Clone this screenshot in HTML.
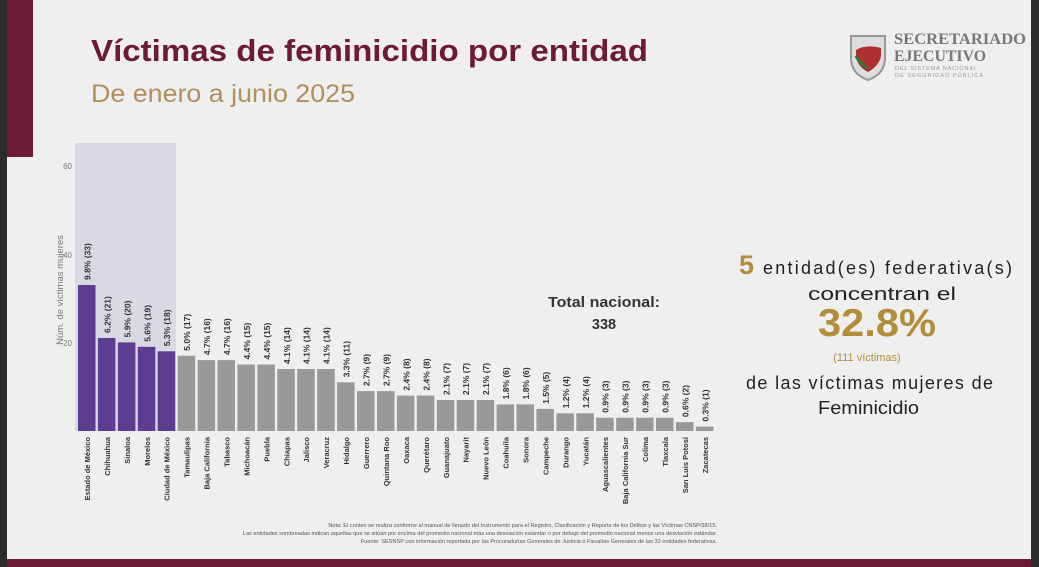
<!DOCTYPE html>
<html><head><meta charset="utf-8"><style>
html,body{margin:0;padding:0;}
body{width:1039px;height:567px;background:#efefef;position:relative;overflow:hidden;font-family:"Liberation Sans",sans-serif;}
</style></head><body>
<svg width="1039" height="567" xmlns="http://www.w3.org/2000/svg" style="position:absolute;left:0;top:0">
<rect x="0" y="0" width="1039" height="567" fill="#efefef"/>
<rect x="0" y="0" width="7" height="567" fill="#2b2b2b"/>
<rect x="1031" y="0" width="8" height="567" fill="#2b2b2b"/>
<rect x="7" y="0" width="26" height="157" fill="#6d1a36"/>
<rect x="7" y="559" width="1024" height="8" fill="#6d1a36"/>
<text x="91" y="61" font-size="31" font-weight="bold" fill="#6d1a36" textLength="557" lengthAdjust="spacingAndGlyphs">Víctimas de feminicidio por entidad</text>
<text x="91" y="102" font-size="25" fill="#b38e5d" textLength="264" lengthAdjust="spacingAndGlyphs">De enero a junio 2025</text>
<!-- logo -->
<path d="M851 36 h34 v22 q0 16 -17 22 q-17 -6 -17 -22 z" fill="#ddd" stroke="#999" stroke-width="2"/>
<path d="M856 50 q10 -6 25 -2 v8 q-2 10 -13 16 q-12 -6 -12 -18z" fill="#b03030"/>
<path d="M856 56 q4 8 12 12" stroke="#2a7a3a" stroke-width="3" fill="none"/>
<text x="894" y="44" font-family="Liberation Serif,serif" font-size="16" font-weight="bold" fill="#777" textLength="132" lengthAdjust="spacingAndGlyphs">SECRETARIADO</text>
<text x="894" y="61" font-family="Liberation Serif,serif" font-size="16" font-weight="bold" fill="#777" textLength="92" lengthAdjust="spacingAndGlyphs">EJECUTIVO</text>
<text x="895" y="70" font-size="5.5" fill="#999" textLength="82">DEL SISTEMA NACIONAL</text>
<text x="895" y="77" font-size="5.5" fill="#999" textLength="88">DE SEGURIDAD PÚBLICA</text>
<rect x="75" y="143" width="101" height="288" fill="#d9d9e4"/>
<g font-size="8" fill="#777" text-anchor="end">
<text x="72" y="169">60</text><text x="72" y="258">40</text><text x="72" y="346">20</text>
</g>
<text transform="translate(63,290) rotate(-90)" font-size="9.5" fill="#777" text-anchor="middle">Núm. de víctimas mujeres</text>
<text x="548" y="307" font-size="14.5" font-weight="bold" fill="#333" textLength="112" lengthAdjust="spacingAndGlyphs">Total nacional:</text>
<text x="604" y="329" font-size="14.5" font-weight="bold" fill="#333" text-anchor="middle">338</text>
<text x="739" y="274" font-size="27" font-weight="bold" fill="#b38e3a">5</text>
<text x="763" y="274" font-size="18" fill="#222" textLength="249">entidad(es) federativa(s)</text>
<text x="808" y="300" font-size="18" fill="#222" textLength="148" lengthAdjust="spacingAndGlyphs">concentran el</text>
<text x="818" y="336" font-size="39" font-weight="bold" fill="#b38e3a" textLength="118" lengthAdjust="spacingAndGlyphs">32.8%</text>
<text x="867" y="361" font-size="11" fill="#b38e3a" text-anchor="middle">(111  víctimas)</text>
<text x="746" y="389" font-size="18" fill="#222" textLength="247">de las víctimas mujeres de</text>
<text x="818" y="414" font-size="18" fill="#222" textLength="101" lengthAdjust="spacingAndGlyphs">Feminicidio</text>
<g font-size="5.6" fill="#555" text-anchor="end">
<text x="717" y="527">Nota: El conteo se realiza conforme al manual de llenado del Instrumento para el Registro, Clasificación y Reporte de los Delitos y las Víctimas CNSP/38/15.</text>
<text x="717" y="535">Las entidades sombreadas indican aquellas que se sitúan por encima del promedio nacional más una desviación estándar o por debajo del promedio nacional menos una desviación estándar.</text>
<text x="717" y="543">Fuente: SESNSP con información reportada por las Procuradurías Generales de Justicia o Fiscalías Generales de las 32 entidades federativas.</text>
</g>
<g>
<rect x="78.0" y="285.0" width="17.5" height="146.0" fill="#5c3d8f"/>
<rect x="97.9" y="338.0" width="17.5" height="93.0" fill="#5c3d8f"/>
<rect x="117.9" y="342.4" width="17.5" height="88.6" fill="#5c3d8f"/>
<rect x="137.8" y="346.8" width="17.5" height="84.2" fill="#5c3d8f"/>
<rect x="157.7" y="351.3" width="17.5" height="79.7" fill="#5c3d8f"/>
</g>
<g fill="#999">
<rect x="177.7" y="355.7" width="17.5" height="75.3"/>
<rect x="197.6" y="360.1" width="17.5" height="70.9"/>
<rect x="217.5" y="360.1" width="17.5" height="70.9"/>
<rect x="237.4" y="364.5" width="17.5" height="66.5"/>
<rect x="257.4" y="364.5" width="17.5" height="66.5"/>
<rect x="277.3" y="369.0" width="17.5" height="62.0"/>
<rect x="297.2" y="369.0" width="17.5" height="62.0"/>
<rect x="317.2" y="369.0" width="17.5" height="62.0"/>
<rect x="337.1" y="382.3" width="17.5" height="48.7"/>
<rect x="357.0" y="391.1" width="17.5" height="39.9"/>
<rect x="377.0" y="391.1" width="17.5" height="39.9"/>
<rect x="396.9" y="395.6" width="17.5" height="35.4"/>
<rect x="416.8" y="395.6" width="17.5" height="35.4"/>
<rect x="436.8" y="400.0" width="17.5" height="31.0"/>
<rect x="456.7" y="400.0" width="17.5" height="31.0"/>
<rect x="476.6" y="400.0" width="17.5" height="31.0"/>
<rect x="496.6" y="404.4" width="17.5" height="26.6"/>
<rect x="516.5" y="404.4" width="17.5" height="26.6"/>
<rect x="536.4" y="408.9" width="17.5" height="22.1"/>
<rect x="556.4" y="413.3" width="17.5" height="17.7"/>
<rect x="576.3" y="413.3" width="17.5" height="17.7"/>
<rect x="596.2" y="417.7" width="17.5" height="13.3"/>
<rect x="616.2" y="417.7" width="17.5" height="13.3"/>
<rect x="636.1" y="417.7" width="17.5" height="13.3"/>
<rect x="656.0" y="417.7" width="17.5" height="13.3"/>
<rect x="676.0" y="422.1" width="17.5" height="8.9"/>
<rect x="695.9" y="426.6" width="17.5" height="4.4"/>
</g>
<g font-size="8.5" font-weight="bold" fill="#333">
<text transform="translate(90.5,280) rotate(-90)">9.8% (33)</text>
<text transform="translate(110.4,333) rotate(-90)">6.2% (21)</text>
<text transform="translate(130.4,337.4) rotate(-90)">5.9% (20)</text>
<text transform="translate(150.3,341.8) rotate(-90)">5.6% (19)</text>
<text transform="translate(170.2,346.3) rotate(-90)">5.3% (18)</text>
<text transform="translate(190.2,350.7) rotate(-90)">5.0% (17)</text>
<text transform="translate(210.1,355.1) rotate(-90)">4.7% (16)</text>
<text transform="translate(230.0,355.1) rotate(-90)">4.7% (16)</text>
<text transform="translate(249.9,359.5) rotate(-90)">4.4% (15)</text>
<text transform="translate(269.9,359.5) rotate(-90)">4.4% (15)</text>
<text transform="translate(289.8,364) rotate(-90)">4.1% (14)</text>
<text transform="translate(309.7,364) rotate(-90)">4.1% (14)</text>
<text transform="translate(329.7,364) rotate(-90)">4.1% (14)</text>
<text transform="translate(349.6,377.3) rotate(-90)">3.3% (11)</text>
<text transform="translate(369.5,386.1) rotate(-90)">2.7% (9)</text>
<text transform="translate(389.5,386.1) rotate(-90)">2.7% (9)</text>
<text transform="translate(409.4,390.6) rotate(-90)">2.4% (8)</text>
<text transform="translate(429.3,390.6) rotate(-90)">2.4% (8)</text>
<text transform="translate(449.3,395) rotate(-90)">2.1% (7)</text>
<text transform="translate(469.2,395) rotate(-90)">2.1% (7)</text>
<text transform="translate(489.1,395) rotate(-90)">2.1% (7)</text>
<text transform="translate(509.1,399.4) rotate(-90)">1.8% (6)</text>
<text transform="translate(529.0,399.4) rotate(-90)">1.8% (6)</text>
<text transform="translate(548.9,403.9) rotate(-90)">1.5% (5)</text>
<text transform="translate(568.9,408.3) rotate(-90)">1.2% (4)</text>
<text transform="translate(588.8,408.3) rotate(-90)">1.2% (4)</text>
<text transform="translate(608.7,412.7) rotate(-90)">0.9% (3)</text>
<text transform="translate(628.7,412.7) rotate(-90)">0.9% (3)</text>
<text transform="translate(648.6,412.7) rotate(-90)">0.9% (3)</text>
<text transform="translate(668.5,412.7) rotate(-90)">0.9% (3)</text>
<text transform="translate(688.5,417.1) rotate(-90)">0.6% (2)</text>
<text transform="translate(708.4,421.6) rotate(-90)">0.3% (1)</text>
</g>
<g font-size="7.5" font-weight="bold" fill="#333" text-anchor="end">
<text transform="translate(90,437) rotate(-90)">Estado de México</text>
<text transform="translate(109.9,437) rotate(-90)">Chihuahua</text>
<text transform="translate(129.9,437) rotate(-90)">Sinaloa</text>
<text transform="translate(149.8,437) rotate(-90)">Morelos</text>
<text transform="translate(169.7,437) rotate(-90)">Ciudad de México</text>
<text transform="translate(189.7,437) rotate(-90)">Tamaulipas</text>
<text transform="translate(209.6,437) rotate(-90)">Baja California</text>
<text transform="translate(229.5,437) rotate(-90)">Tabasco</text>
<text transform="translate(249.4,437) rotate(-90)">Michoacán</text>
<text transform="translate(269.4,437) rotate(-90)">Puebla</text>
<text transform="translate(289.3,437) rotate(-90)">Chiapas</text>
<text transform="translate(309.2,437) rotate(-90)">Jalisco</text>
<text transform="translate(329.2,437) rotate(-90)">Veracruz</text>
<text transform="translate(349.1,437) rotate(-90)">Hidalgo</text>
<text transform="translate(369.0,437) rotate(-90)">Guerrero</text>
<text transform="translate(389.0,437) rotate(-90)">Quintana Roo</text>
<text transform="translate(408.9,437) rotate(-90)">Oaxaca</text>
<text transform="translate(428.8,437) rotate(-90)">Querétaro</text>
<text transform="translate(448.8,437) rotate(-90)">Guanajuato</text>
<text transform="translate(468.7,437) rotate(-90)">Nayarit</text>
<text transform="translate(488.6,437) rotate(-90)">Nuevo León</text>
<text transform="translate(508.6,437) rotate(-90)">Coahuila</text>
<text transform="translate(528.5,437) rotate(-90)">Sonora</text>
<text transform="translate(548.4,437) rotate(-90)">Campeche</text>
<text transform="translate(568.4,437) rotate(-90)">Durango</text>
<text transform="translate(588.3,437) rotate(-90)">Yucatán</text>
<text transform="translate(608.2,437) rotate(-90)">Aguascalientes</text>
<text transform="translate(628.2,437) rotate(-90)">Baja California Sur</text>
<text transform="translate(648.1,437) rotate(-90)">Colima</text>
<text transform="translate(668.0,437) rotate(-90)">Tlaxcala</text>
<text transform="translate(688.0,437) rotate(-90)">San Luis Potosí</text>
<text transform="translate(707.9,437) rotate(-90)">Zacatecas</text>
</g>
</svg>
</body></html>
